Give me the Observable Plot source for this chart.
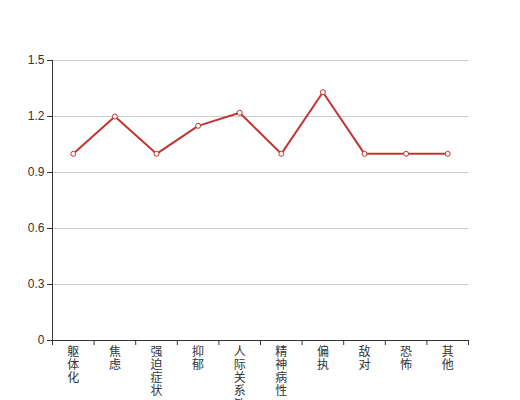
<!DOCTYPE html>
<html><head><meta charset="utf-8">
<script src="https://cdn.jsdelivr.net/npm/d3@7"></script>
<script src="https://cdn.jsdelivr.net/npm/@observablehq/plot@0.6"></script>
<style>body{margin:0;background:#fff}svg{overflow:visible}</style>
</head><body><div id="chart"></div>
<script>
const categories = ["躯体化","焦虑","强迫症状","抑郁","人际关系敏感","精神病性","偏执","敌对","恐怖","其他"];
const values = [1.0, 1.2, 1.0, 1.15, 1.22, 1.0, 1.33, 1.0, 1.0, 1.0];
const yTicks = [0, 0.3, 0.6, 0.9, 1.2, 1.5];

const data = categories.map((c, i) => ({i, c, v: values[i]}));
const red = "#c23531";
const axisColor = "#333";

const chart = Plot.plot({
  width: 520, height: 400,
  marginTop: 60, marginBottom: 60, marginLeft: 52, marginRight: 52,
  style: {fontFamily: "'Noto Sans CJK SC', sans-serif", fontSize: "12px", color: axisColor, background: "#fff"},
  x: {domain: [0, categories.length]},
  y: {domain: [0, 1.5]},
  marks: [
    Plot.gridY(yTicks, {stroke: "#ccc", strokeOpacity: 1}),
    Plot.axisY(yTicks, {tickSize: 5, tickPadding: 3, label: null, stroke: axisColor, fill: axisColor, fontSize: 12,
      fontFamily: "'Liberation Sans', Arial, sans-serif", tickFormat: d => String(d)}),
    Plot.ruleX([0], {stroke: axisColor}),
    Plot.ruleY([0], {stroke: axisColor}),
    Plot.axisX(d3.range(categories.length + 1), {tickSize: 5, tickFormat: () => "", label: null, stroke: axisColor}),
    Plot.text(data, {x: d => d.i + 0.5, y: 0, text: d => d.c.split("").join("\n"), lineAnchor: "top", lineHeight: 1.1, dy: 6, fill: "#333", fontSize: 12}),
    Plot.line(data, {x: d => d.i + 0.5, y: "v", stroke: red, strokeWidth: 2}),
    Plot.dot(data, {x: d => d.i + 0.5, y: "v", r: 2.5, fill: "#fff", stroke: red, strokeWidth: 1})
  ]
});
document.getElementById("chart").appendChild(chart);
</script></body></html>
